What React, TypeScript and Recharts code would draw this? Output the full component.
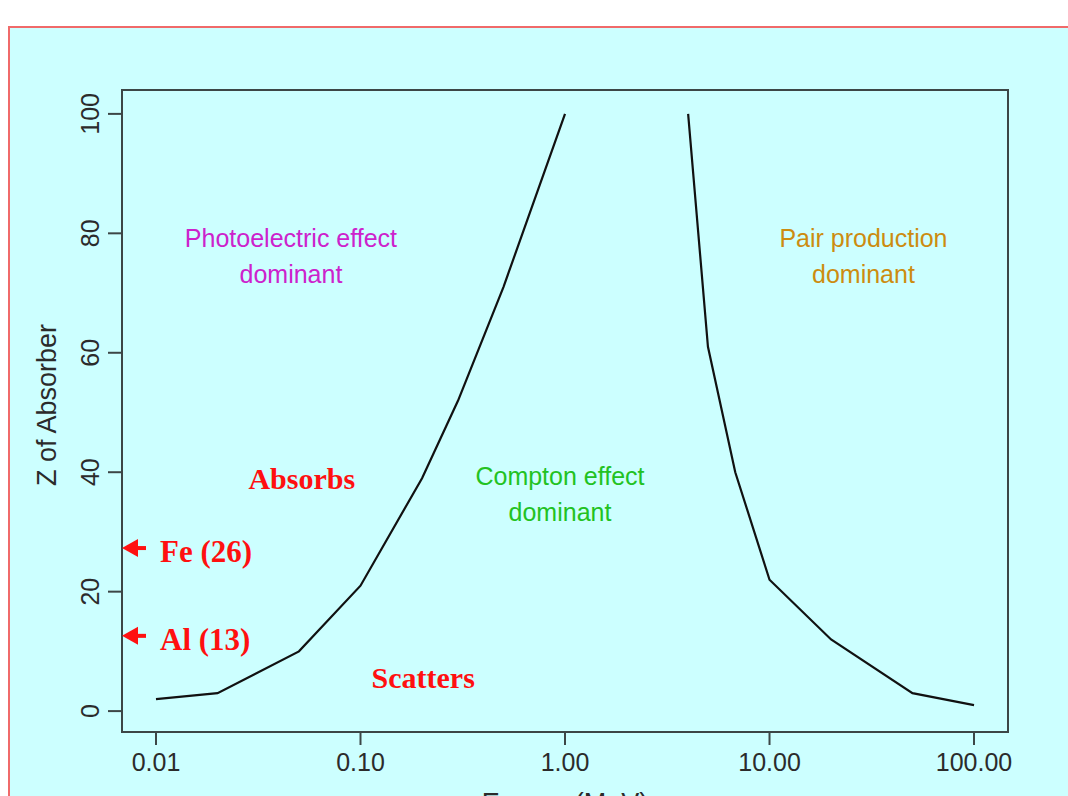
import { LineChart, Line, XAxis, YAxis, ReferenceArea, ReferenceDot, Label } from "recharts";

// energy (MeV) on a log axis, Z of absorber on a linear axis
const energyTicks = [0.01, 0.1, 1, 10, 100];
const zTicks = [0, 20, 40, 60, 80, 100];

// photoelectric / Compton boundary
const photoEnergy = [0.01, 0.02, 0.05, 0.1, 0.2, 0.3, 0.5, 1];
const photoZ = [2, 3, 10, 21, 39, 52, 71, 100];

// Compton / pair production boundary
const pairEnergy = [4, 5, 6.8, 10, 20, 50, 100];
const pairZ = [100, 61, 40, 22, 12, 3, 1];

// region captions
const regionLines = [
  ["Photoelectric effect", "dominant"],
  ["Pair production", "dominant"],
  ["Compton effect", "dominant"],
];
const regionEnergy = [0.0457, 28.8, 0.945];
const regionZ = [77.7, 77.7, 37.9];

// red notes
const noteText = ["Absorbs", "Scatters"];
const noteEnergy = [0.0516, 0.2025];
const noteZ = [37.2, 3.85];

// marked elements
const elementNames = ["Fe (26)", "Al (13)"];
const elementZ = [27.3, 12.6];

const X_MIN = 0.00682;
const X_MAX = 146.6;
const Y_MIN = -3.5;
const Y_MAX = 104;

const photoData = photoEnergy.map((e, i) => ({ e, z: photoZ[i] }));
const pairData = pairEnergy.map((e, i) => ({ e, z: pairZ[i] }));

const SANS = "'Liberation Sans', Arial, sans-serif";
const SERIF = "'Liberation Serif', 'Times New Roman', serif";
const AXIS = "#3c4646";
const INK = "#2b2b2b";
const regionColors = ["#cc22cc", "#cc8c10", "#22c222"];

function YTick({ x, y, payload }: any) {
  return (
    <text
      x={x}
      y={y}
      transform={`rotate(-90, ${x}, ${y})`}
      textAnchor="middle"
      fontFamily={SANS}
      fontSize={25}
      fill={INK}
    >
      {payload.value}
    </text>
  );
}

function XTick({ x, y, payload }: any) {
  return (
    <text x={x} y={y + 20} textAnchor="middle" fontFamily={SANS} fontSize={25} fill={INK}>
      {payload.value.toFixed(2)}
    </text>
  );
}

export default function App() {
  return (
    <div style={{ position: "absolute", left: 0, top: 0, width: 1068, height: 796, overflow: "hidden", background: "#fff" }}>
      <div
        style={{
          position: "absolute",
          left: 8,
          top: 26,
          width: 1100,
          height: 820,
          background: "#ccffff",
          border: "2px solid #f06a6a",
        }}
      />
      <div style={{ position: "absolute", left: 0, top: 0 }}>
        <LineChart width={1068} height={830} margin={{ top: 90, right: 60, left: 62, bottom: 38 }}>
          <XAxis
            dataKey="e"
            type="number"
            scale="log"
            domain={[X_MIN, X_MAX]}
            allowDataOverflow
            ticks={energyTicks}
            height={60}
            tickSize={13}
            tickMargin={6}
            axisLine={false}
            tickLine={{ stroke: AXIS, strokeWidth: 2 }}
            tick={<XTick />}
            label={
              <Label
                content={({ viewBox }: any) => (
                  <text
                    x={viewBox.x + viewBox.width / 2}
                    y={812}
                    textAnchor="middle"
                    fontFamily={SANS}
                    fontSize={27}
                    fill={INK}
                  >
                    Energy (MeV)
                  </text>
                )}
              />
            }
          />
          <YAxis
            dataKey="z"
            type="number"
            domain={[Y_MIN, Y_MAX]}
            allowDataOverflow
            ticks={zTicks}
            width={60}
            tickSize={14}
            tickMargin={9}
            axisLine={false}
            tickLine={{ stroke: AXIS, strokeWidth: 2 }}
            tick={<YTick />}
            label={
              <Label
                content={() => (
                  <text
                    x={56}
                    y={405}
                    transform="rotate(-90, 56, 405)"
                    textAnchor="middle"
                    fontFamily={SANS}
                    fontSize={27}
                    fill={INK}
                  >
                    Z of Absorber
                  </text>
                )}
              />
            }
          />
          <ReferenceArea
            x1={X_MIN}
            x2={X_MAX}
            y1={Y_MIN}
            y2={Y_MAX}
            fill="none"
            stroke={AXIS}
            strokeWidth={2}
            ifOverflow="visible"
          />
          <Line
            data={photoData}
            dataKey="z"
            stroke="#111"
            strokeWidth={2.2}
            dot={false}
            isAnimationActive={false}
          />
          <Line
            data={pairData}
            dataKey="z"
            stroke="#111"
            strokeWidth={2.2}
            dot={false}
            isAnimationActive={false}
          />
          {regionLines.map((lines, i) => (
            <ReferenceDot
              key={lines[0]}
              x={regionEnergy[i]}
              y={regionZ[i]}
              ifOverflow="visible"
              shape={(p: any) => (
                <text
                  x={p.cx}
                  y={p.cy}
                  textAnchor="middle"
                  fontFamily={SANS}
                  fontSize={25}
                  fill={regionColors[i]}
                >
                  <tspan x={p.cx}>{lines[0]}</tspan>
                  <tspan x={p.cx} dy={36}>{lines[1]}</tspan>
                </text>
              )}
            />
          ))}
          {noteText.map((t, i) => (
            <ReferenceDot
              key={t}
              x={noteEnergy[i]}
              y={noteZ[i]}
              ifOverflow="visible"
              shape={(p: any) => (
                <text
                  x={p.cx}
                  y={p.cy}
                  textAnchor="middle"
                  fontFamily={SERIF}
                  fontWeight="bold"
                  fontSize={30}
                  fill="#ff1010"
                >
                  {t}
                </text>
              )}
            />
          ))}
          {elementNames.map((name, i) => (
            <ReferenceDot
              key={name}
              x={X_MIN}
              y={elementZ[i]}
              ifOverflow="visible"
              shape={(p: any) => (
                <g fill="#ff1010">
                  <polygon points={`${p.cx},${p.cy} ${p.cx + 16},${p.cy - 9} ${p.cx + 16},${p.cy + 9}`} />
                  <rect x={p.cx + 12} y={p.cy - 2} width={12} height={4} />
                  <text
                    x={p.cx + 38}
                    y={p.cy + 14}
                    fontFamily={SERIF}
                    fontWeight="bold"
                    fontSize={31}
                  >
                    {name}
                  </text>
                </g>
              )}
            />
          ))}
        </LineChart>
      </div>
    </div>
  );
}
